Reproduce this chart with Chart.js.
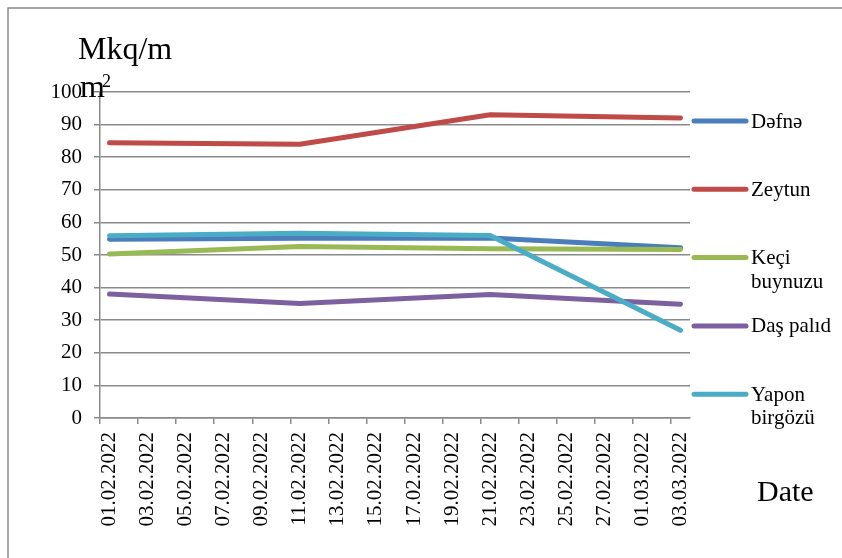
<!DOCTYPE html>
<html>
<head>
<meta charset="utf-8">
<script src="https://cdn.jsdelivr.net/npm/chart.js@4.4.0/dist/chart.umd.min.js"></script>
<style>
  html, body { margin: 0; padding: 0; background: #fff; }
  #wrap { width: 842px; height: 558px; position: relative; }
</style>
</head>
<body>
<div id="wrap"><canvas id="chart"></canvas></div>
<script>
/* data */
const DAYS = ['01.02.2022', '02.02.2022', '03.02.2022', '04.02.2022', '05.02.2022', '06.02.2022',
              '07.02.2022', '08.02.2022', '09.02.2022', '10.02.2022', '11.02.2022', '12.02.2022',
              '13.02.2022', '14.02.2022', '15.02.2022', '16.02.2022', '17.02.2022', '18.02.2022',
              '19.02.2022', '20.02.2022', '21.02.2022', '22.02.2022', '23.02.2022', '24.02.2022',
              '25.02.2022', '26.02.2022', '27.02.2022', '28.02.2022', '01.03.2022', '02.03.2022',
              '03.03.2022'];
const SAMPLE_DATES = ['01.02.2022', '11.02.2022', '21.02.2022', '03.03.2022'];
const SERIES_NAMES = ['Dəfnə', 'Zeytun', 'Keçi buynuzu', 'Daş palıd', 'Yapon birgözü'];
const DEFNE     = [54.8, 55.1, 55.2, 52.2];
const ZEYTUN    = [84.4, 84.0, 93.0, 92.0];
const KECI      = [50.3, 52.6, 51.9, 51.7];
const DAS_PALID = [38.0, 35.1, 37.9, 34.9];
const YAPON     = [55.9, 56.7, 56.0, 26.9];
const Y_TICKS   = [0, 10, 20, 30, 40, 50, 60, 70, 80, 90, 100];

const COLORS = ['#4A7EBB', '#BE4B48', '#98B954', '#7D60A0', '#4BACC6'];
const GRID = '#8a8a8a';
const SERIF = "'Liberation Serif', 'Times New Roman', serif";

const SERIES = [DEFNE, ZEYTUN, KECI, DAS_PALID, YAPON];

function points(vals) {
  return vals.map((v, i) => ({ x: SAMPLE_DATES[i], y: v }));
}

function wrapText(ctx, text, maxW) {
  const words = text.split(' ');
  const lines = [];
  let cur = '';
  words.forEach(w => {
    const t = cur ? cur + ' ' + w : w;
    if (cur && ctx.measureText(t).width > maxW) { lines.push(cur); cur = w; }
    else cur = t;
  });
  if (cur) lines.push(cur);
  return lines;
}

/* frame, axis titles and the right-hand legend */
const deco = {
  id: 'deco',
  afterDraw(chart) {
    const ctx = chart.ctx;
    ctx.save();
    ctx.strokeStyle = GRID;
    ctx.lineWidth = 1.5;
    ctx.beginPath();
    ctx.moveTo(8, 558); ctx.lineTo(8, 8); ctx.lineTo(842, 8);
    ctx.stroke();

    ctx.fillStyle = '#000';
    ctx.textBaseline = 'alphabetic';
    ctx.textAlign = 'left';
    ctx.font = '32px ' + SERIF;
    ctx.fillText('Mkq/m', 78, 59);
    ctx.fillText('m', 80, 97);
    ctx.font = '18px ' + SERIF;
    ctx.fillText('2', 102, 87);
    ctx.font = '30px ' + SERIF;
    ctx.fillText('Date', 757, 501);

    // legend
    ctx.font = '21px ' + SERIF;
    ctx.textBaseline = 'middle';
    chart.data.datasets.forEach((ds, i) => {
      const y = 121 + i * 68.3;
      ctx.strokeStyle = ds.borderColor;
      ctx.lineWidth = 5;
      ctx.lineCap = 'round';
      ctx.beginPath();
      ctx.moveTo(694, y); ctx.lineTo(746, y);
      ctx.stroke();
      wrapText(ctx, ds.label, 88).forEach((ln, k) => {
        ctx.fillText(ln, 751, y + 1 + k * 23.5);
      });
    });
    ctx.restore();
  }
};

new Chart(document.getElementById('chart'), {
  type: 'line',
  data: {
    labels: DAYS,
    datasets: SERIES.map((vals, i) => ({
      label: SERIES_NAMES[i],
      data: points(vals),
      borderColor: COLORS[i],
      backgroundColor: COLORS[i],
      borderWidth: 5,
      borderCapStyle: 'round',
      borderJoinStyle: 'round',
      pointRadius: 0,
      tension: 0,
      order: SERIES.length - i
    }))
  },
  options: {
    responsive: true,
    maintainAspectRatio: false,
    animation: false,
    layout: { padding: { left: 0, top: 92, right: 152, bottom: 0 } },
    plugins: { legend: { display: false }, tooltip: { enabled: false } },
    scales: {
      x: {
        type: 'category',
        offset: true,
        afterFit: s => { s.height = 140; },
        border: { color: GRID, width: 1.5 },
        grid: {
          offset: true,
          drawOnChartArea: false,
          tickLength: 6,
          lineWidth: 1.5,
          color: c => (c.index === undefined || c.index % 2) ? 'rgba(0,0,0,0)' : GRID
        },
        ticks: {
          autoSkip: false,
          minRotation: 90,
          maxRotation: 90,
          padding: 8,
          color: '#000',
          font: { family: SERIF, size: 21 },
          callback: (v, i) => i % 2 ? '' : DAYS[i]
        }
      },
      y: {
        min: Y_TICKS[0],
        max: Y_TICKS[Y_TICKS.length - 1],
        afterFit: s => { s.width = 100; },
        border: { color: GRID, width: 1.5 },
        grid: { color: GRID, lineWidth: 1.5, tickLength: 6 },
        ticks: {
          stepSize: Y_TICKS[1] - Y_TICKS[0],
          padding: 12,
          color: '#000',
          font: { family: SERIF, size: 21 }
        }
      }
    }
  },
  plugins: [deco]
});
</script>
</body>
</html>
